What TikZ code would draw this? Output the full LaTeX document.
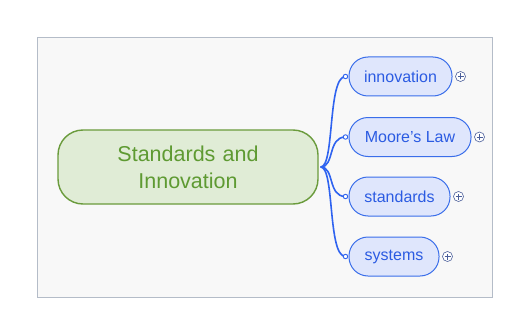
\documentclass[tikz,border=0pt]{standalone}
\usepackage{fontspec}
\setmainfont{Liberation Sans}
\definecolor{canvasfill}{HTML}{F8F8F8}
\definecolor{canvasline}{HTML}{B4BCC8}
\definecolor{rootfill}{HTML}{E0ECD6}
\definecolor{rootline}{HTML}{6A9B3C}
\definecolor{roottext}{HTML}{5E9A32}
\definecolor{topicfill}{HTML}{DFE6FC}
\definecolor{topicline}{HTML}{3A6EEA}
\definecolor{topictext}{HTML}{2B5BE2}
\definecolor{linkcol}{HTML}{2F63F0}
\definecolor{plusline}{HTML}{4A5E9A}
\begin{document}
\begin{tikzpicture}[x=1pt,y=-1pt,
  rootbox/.style={draw=rootline, line width=1.4pt, fill=rootfill, rounded corners=25pt,
    minimum width=260pt, minimum height=74pt, text width=240pt, align=center,
    text=roottext, font=\fontsize{21.5}{27}\selectfont, inner sep=0pt},
  topicbox/.style={draw=topicline, line width=1pt, fill=topicfill, rounded corners=19pt,
    minimum height=39pt, text=topictext, font=\fontsize{16}{19}\selectfont, inner sep=0pt},
  link/.style={draw=linkcol, line width=1.6pt},
  dot/.style={circle, draw=linkcol, fill=white, line width=0.9pt, inner sep=0pt, minimum size=4.5pt},
  plusmark/.style={circle, draw=plusline, fill=white, line width=0.6pt, inner sep=0pt, minimum size=10pt,
    path picture={\draw[plusline, line width=0.6pt]
      ([xshift=-3pt]path picture bounding box.center) -- ([xshift=3pt]path picture bounding box.center)
      ([yshift=-3pt]path picture bounding box.center) -- ([yshift=3pt]path picture bounding box.center);}}
]
\useasboundingbox (0,0) rectangle (529,334);
% canvas
\draw[canvasline, fill=canvasfill, line width=0.8pt] (37.5,37.5) rectangle (492.5,297.5);

% central topic
\node[rootbox] (root) at (188,167) {Standards and\\Innovation};

% subtopics
\node[topicbox, minimum width=103pt] (t1) at (400.5,76.5) {innovation};
\node[topicbox, minimum width=122pt] (t2) at (410,137) {Moore’s Law};
\node[topicbox, minimum width=101pt] (t3) at (399.5,196.5) {standards};
\node[topicbox, minimum width=90pt]  (t4) at (394,256.5) {systems};

% expand markers
\node[plusmark] (p1) at ([xshift=8pt]t1.east) {};
\node[plusmark] (p2) at ([xshift=8pt]t2.east) {};
\node[plusmark] (p3) at ([xshift=8pt]t3.east) {};
\node[plusmark] (p4) at ([xshift=8pt]t4.east) {};

% branch connectors
\coordinate (hub) at ([xshift=2pt]root.east);
\foreach \t in {t1,t2,t3,t4}{
  \coordinate (e\t) at ([xshift=-3pt]\t.west);
  \draw[link] (hub) .. controls ([xshift=14pt]hub) and ([xshift=-18pt]e\t) .. (e\t);
  \node[dot] at (e\t) {};
}
\end{tikzpicture}
\end{document}
